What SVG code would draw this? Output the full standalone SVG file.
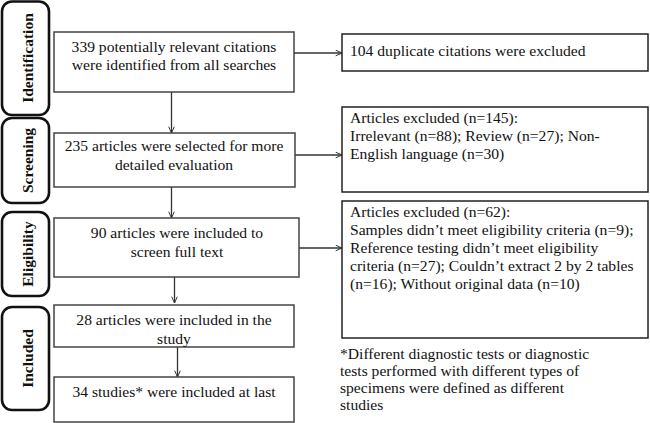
<svg xmlns="http://www.w3.org/2000/svg" width="650" height="423" viewBox="0 0 650 423">
<defs>
<style>
.stage rect{fill:#fff;stroke:#111;stroke-width:2.6}
.stage text{font-weight:bold;font-size:15.5px;fill:#111;text-anchor:middle}
.box rect{fill:#fff;stroke:#444;stroke-width:1.5}
.box text{font-size:15.6px;fill:#111;text-anchor:middle}
.rbox rect{fill:#fff;stroke:#222;stroke-width:1.5}
.rbox text,.note text{font-size:15.6px;fill:#111}
.conn line{stroke:#333;stroke-width:1.3}
</style>
<marker id="ah" viewBox="0 0 10 10" refX="10" refY="5" markerWidth="7" markerHeight="7" orient="auto" markerUnits="userSpaceOnUse">
<path d="M1,1 L10,5 L1,9" fill="none" stroke="#333" stroke-width="1.4"/>
</marker>
</defs>
<rect width="650" height="423" fill="#fff"/>
<g font-family="Liberation Serif, DejaVu Serif, serif">
<g id="stage-identification" class="stage"><rect x="2" y="1.5" width="47" height="113.5" rx="10"/><text transform="translate(32.5,58) rotate(-90)">Identification</text></g>
<g id="stage-screening" class="stage"><rect x="2" y="118" width="47" height="85" rx="10"/><text transform="translate(32.5,160.5) rotate(-90)">Screening</text></g>
<g id="stage-eligibility" class="stage"><rect x="2" y="212" width="47" height="84" rx="10"/><text transform="translate(32.5,254) rotate(-90)">Eligibility</text></g>
<g id="stage-included" class="stage"><rect x="2" y="307" width="47" height="103" rx="10"/><text transform="translate(32.5,358.5) rotate(-90)">Included</text></g>

<g id="conn" class="conn">
<line x1="171.5" y1="92" x2="171.5" y2="133" marker-end="url(#ah)"/>
<line x1="171.5" y1="187" x2="171.5" y2="218" marker-end="url(#ah)"/>
<line x1="174.5" y1="277" x2="174.5" y2="303" marker-end="url(#ah)"/>
<line x1="177.5" y1="347" x2="177.5" y2="377" marker-end="url(#ah)"/>
<line x1="294" y1="53" x2="342" y2="53" marker-end="url(#ah)"/>
<line x1="295" y1="155" x2="342" y2="155" marker-end="url(#ah)"/>
<line x1="299" y1="248" x2="342" y2="248" marker-end="url(#ah)"/>
</g>

<g id="n1" class="box"><rect x="54" y="32" width="240" height="60"/><text x="174" y="52">339 potentially relevant citations</text><text x="174" y="70">were identified from all searches</text></g>
<g id="n2" class="box"><rect x="54" y="133" width="241" height="54"/><text x="174" y="151">235 articles were selected for more</text><text x="174" y="170">detailed evaluation</text></g>
<g id="n3" class="box"><rect x="54" y="218" width="245" height="59"/><text x="177" y="238">90 articles were included to</text><text x="177" y="257">screen full text</text></g>
<g id="n4" class="box"><rect x="54" y="305" width="240" height="42"/><text x="174" y="325">28 articles were included in the</text><text x="174" y="344">study</text></g>
<g id="n5" class="box"><rect x="54" y="377" width="240" height="45"/><text x="174" y="397">34 studies* were included at last</text></g>

<g id="r1" class="rbox"><rect x="342" y="34" width="306" height="37"/><text x="350" y="56">104 duplicate citations were excluded</text></g>
<g id="r2" class="rbox"><rect x="342" y="107" width="306" height="85"/><text x="350" y="123">Articles excluded (n=145):</text><text x="350" y="141">Irrelevant (n=88); Review (n=27); Non-</text><text x="350" y="159">English language (n=30)</text></g>
<g id="r3" class="rbox"><rect x="342" y="201" width="306" height="137"/><text x="350" y="217">Articles excluded (n=62):</text><text x="350" y="235">Samples didn’t meet eligibility criteria (n=9);</text><text x="350" y="253">Reference testing didn’t meet eligibility</text><text x="350" y="271">criteria (n=27); Couldn’t extract 2 by 2 tables</text><text x="350" y="289">(n=16); Without original data (n=10)</text></g>

<g id="note" class="note"><text x="340" y="359">*Different diagnostic tests or diagnostic</text><text x="340" y="376">tests performed with different types of</text><text x="340" y="393">specimens were defined as different</text><text x="340" y="410">studies</text></g>
</g>
</svg>
